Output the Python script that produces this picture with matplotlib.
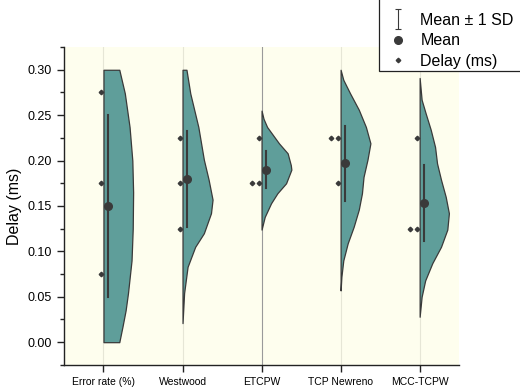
import matplotlib
matplotlib.use('Agg')
import matplotlib.pyplot as plt
from matplotlib.lines import Line2D
from matplotlib.path import Path
from matplotlib.patches import Rectangle

plt.rcParams['font.family'] = ['Liberation Sans', 'DejaVu Sans']

# categories and summary values
categories = ['Error rate (%)', 'Westwood', 'ETCPW', 'TCP Newreno', 'MCC-TCPW']
means = [0.150, 0.180, 0.190, 0.197, 0.153]
sds = [0.100, 0.053, 0.020, 0.041, 0.042]

# raw delay points (ms)
delay_points = [
    [0.275, 0.175, 0.075],
    [0.225, 0.175, 0.125],
    [0.225, 0.175, 0.175],
    [0.225, 0.225, 0.175],
    [0.225, 0.125, 0.125],
]

# half-violin outlines: delay value -> density width
err_y = [0.0, 0.017, 0.035, 0.054, 0.09, 0.125, 0.165, 0.20, 0.237, 0.274, 0.30]
err_w = [0.20, 0.24, 0.28, 0.31, 0.355, 0.37, 0.375, 0.365, 0.33, 0.27, 0.20]

west_y = [0.021, 0.054, 0.083, 0.105, 0.120, 0.142, 0.157, 0.179, 0.201, 0.237, 0.274, 0.30]
west_w = [0.0, 0.02, 0.064, 0.16, 0.27, 0.36, 0.38, 0.33, 0.27, 0.20, 0.098, 0.05]

etcpw_y = [0.124, 0.138, 0.153, 0.164, 0.175, 0.190, 0.195, 0.208, 0.219, 0.237, 0.246, 0.255]
etcpw_w = [0.0, 0.04, 0.12, 0.20, 0.31, 0.377, 0.37, 0.33, 0.22, 0.07, 0.025, 0.0]

newreno_y = [0.057, 0.072, 0.090, 0.109, 0.127, 0.146, 0.164, 0.182, 0.201, 0.219, 0.237, 0.256, 0.274, 0.289, 0.30]
newreno_w = [0.0, 0.01, 0.034, 0.09, 0.165, 0.23, 0.27, 0.29, 0.34, 0.377, 0.32, 0.23, 0.12, 0.034, 0.0]

mcc_y = [0.028, 0.050, 0.068, 0.087, 0.105, 0.124, 0.142, 0.160, 0.179, 0.197, 0.215, 0.234, 0.252, 0.267, 0.291]
mcc_w = [0.0, 0.025, 0.07, 0.16, 0.27, 0.35, 0.37, 0.33, 0.27, 0.22, 0.195, 0.14, 0.076, 0.025, 0.0]

violins = [(err_y, err_w), (west_y, west_w), (etcpw_y, etcpw_w),
           (newreno_y, newreno_w), (mcc_y, mcc_w)]

teal = '#5f9e9a'
dark = '#3a3a3a'

fig = plt.figure(figsize=(5.2, 3.89), dpi=100)
ax = fig.add_axes([0.123, 0.062, 0.760, 0.817])
ax.set_facecolor('#fefeee')

for i, name in enumerate(categories):
    pos = i + 1
    # faint vertical guide line, the middle one is darker
    ax.axvline(pos, color='#9a9a9a' if i == 2 else '#e6e6d6', lw=0.8, zorder=0)

    vy, vw = violins[i]
    ax.fill_betweenx(vy, pos, [pos + w for w in vw], facecolor=teal,
                     edgecolor=dark, lw=0.9, zorder=2)

    # points on the left, duplicates pushed further left
    seen = {}
    for v in delay_points[i]:
        k = seen.get(v, 0)
        seen[v] = k + 1
        ax.plot(pos - 0.03 - 0.09 * k, v, 'D', color=dark, ms=2.3, zorder=4)

    ax.plot([pos + 0.055, pos + 0.055], [means[i] - sds[i], means[i] + sds[i]],
            color=dark, lw=1.5, zorder=3)
    ax.plot(pos + 0.055, means[i], 'o', color=dark, ms=5.5, zorder=5)

ax.set_xlim(0.5, 5.5)
ax.set_ylim(-0.025, 0.325)
ax.set_xticks(range(1, 6))
ax.set_xticklabels(categories, fontsize=7.5)
ax.set_yticks([0.0, 0.05, 0.10, 0.15, 0.20, 0.25, 0.30])
ax.set_yticklabels(['0.00', '0.05', '0.10', '0.15', '0.20', '0.25', '0.30'], fontsize=9)
ax.set_yticks([-0.025, 0.025, 0.075, 0.125, 0.175, 0.225, 0.275, 0.325], minor=True)
ax.tick_params(axis='both', which='major', direction='out', length=5, width=1, color='#222222')
ax.tick_params(axis='y', which='minor', direction='out', length=3, width=1, color='#222222')
ax.tick_params(axis='x', pad=4)
ax.set_ylabel('Delay (ms)', fontsize=11.5, labelpad=4)

for s in ['top', 'right']:
    ax.spines[s].set_visible(False)
for s in ['left', 'bottom']:
    ax.spines[s].set_color('#222222')
    ax.spines[s].set_linewidth(1)

# legend box runs off the top and right of the figure
fig.patches.append(Rectangle((379 / 520, 1 - 71 / 389), 0.4, 0.3, transform=fig.transFigure,
                             facecolor='white', edgecolor='#222222', lw=0.9, zorder=10))

ibar = Path([(-0.3, 1), (0.3, 1), (0, 1), (0, -1), (-0.3, -1), (0.3, -1)],
            [Path.MOVETO, Path.LINETO, Path.MOVETO, Path.LINETO, Path.MOVETO, Path.LINETO])
handles = [
    Line2D([], [], ls='none', marker=ibar, ms=15, mew=0.8, color=dark),
    Line2D([], [], ls='none', marker='o', ms=5.5, color=dark),
    Line2D([], [], ls='none', marker='D', ms=2.3, color=dark),
]
leg = fig.legend(handles, ['Mean ± 1 SD', 'Mean', 'Delay (ms)'], loc='upper left',
                 bbox_to_anchor=(390 / 520, 1 - 13 / 389), frameon=False, fontsize=11.5,
                 labelspacing=0.33, handlelength=1.0, handletextpad=0.9,
                 borderpad=0, borderaxespad=0)
leg.set_zorder(11)

fig.savefig('out.png', dpi=100)
